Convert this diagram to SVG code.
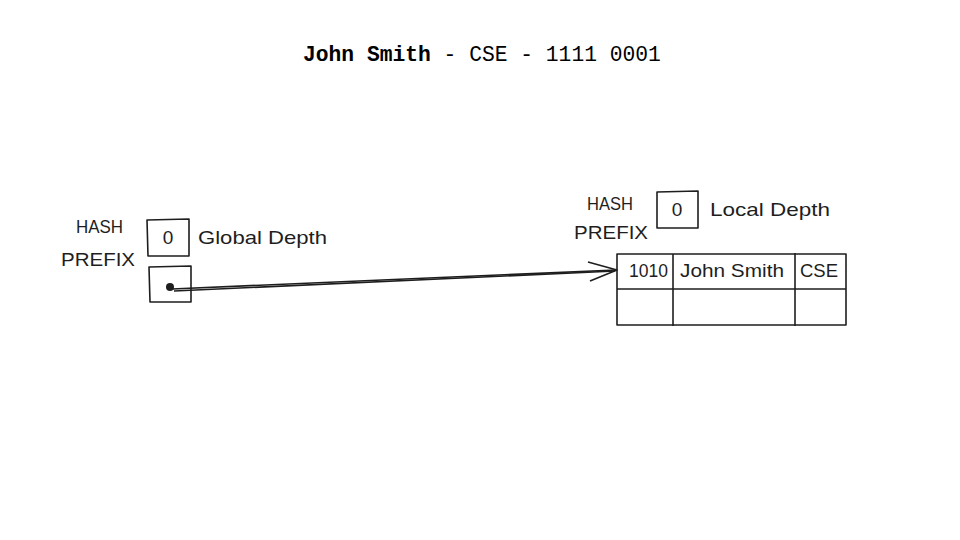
<svg xmlns="http://www.w3.org/2000/svg" width="960" height="540" viewBox="0 0 960 540">
<defs>
<style>
.hand{font-family:"Liberation Sans","DejaVu Sans",sans-serif;font-size:19px;fill:#1e1e1e}
.box{fill:none;stroke:#1e1e1e;stroke-width:1.6;stroke-linejoin:round}
.title{font-family:"Liberation Mono","DejaVu Sans Mono",monospace;font-size:21.3px;fill:#000}
</style>
</defs>
<rect width="960" height="540" fill="#fff"/>
<text class="title" x="303" y="61"><tspan font-weight="bold">John Smith</tspan> - CSE - 1111 0001</text>

<g id="global-depth">
<text class="hand" x="76" y="233" textLength="47" lengthAdjust="spacingAndGlyphs">HASH</text>
<text class="hand" x="61" y="266" textLength="74" lengthAdjust="spacingAndGlyphs">PREFIX</text>
<path class="box" d="M147 220 L189 219 L189 256 L148 256 Z"/>
<text class="hand" x="168" y="244" text-anchor="middle">0</text>
<text class="hand" x="198" y="244" textLength="129" lengthAdjust="spacingAndGlyphs">Global Depth</text>
</g>

<g id="pointer">
<path class="box" d="M149 267 L191 266 L191 302 L150 302 Z"/>
<circle cx="170" cy="287" r="4" fill="#1e1e1e"/>
</g>

<g id="local-depth">
<text class="hand" x="587" y="210" textLength="46" lengthAdjust="spacingAndGlyphs">HASH</text>
<text class="hand" x="574" y="239" textLength="74" lengthAdjust="spacingAndGlyphs">PREFIX</text>
<path class="box" d="M657 192 L698 191 L698 228 L657 228 Z"/>
<text class="hand" x="677" y="216" text-anchor="middle">0</text>
<text class="hand" x="710" y="216" textLength="120" lengthAdjust="spacingAndGlyphs">Local Depth</text>
</g>

<g id="bucket">
<path class="box" d="M617 254 L846 254 L846 325 L617 325 Z"/>
<path class="box" d="M617 289 L846 289"/>
<path class="box" d="M673 254 L673 326"/>
<path class="box" d="M795 253 L795 326"/>
<text class="hand" x="629" y="277" textLength="39" lengthAdjust="spacingAndGlyphs">1010</text>
<text class="hand" x="680" y="277" textLength="104" lengthAdjust="spacingAndGlyphs">John Smith</text>
<text class="hand" x="800" y="277" textLength="38" lengthAdjust="spacingAndGlyphs">CSE</text>
</g>

<g id="connectors">
<path class="box" d="M172 289 L616 270" stroke-width="1.4"/>
<path class="box" d="M174 291 L615 271" stroke-width="1"/>
<path class="box" d="M588 262 L617 270 L590 281"/>
</g>
</svg>
